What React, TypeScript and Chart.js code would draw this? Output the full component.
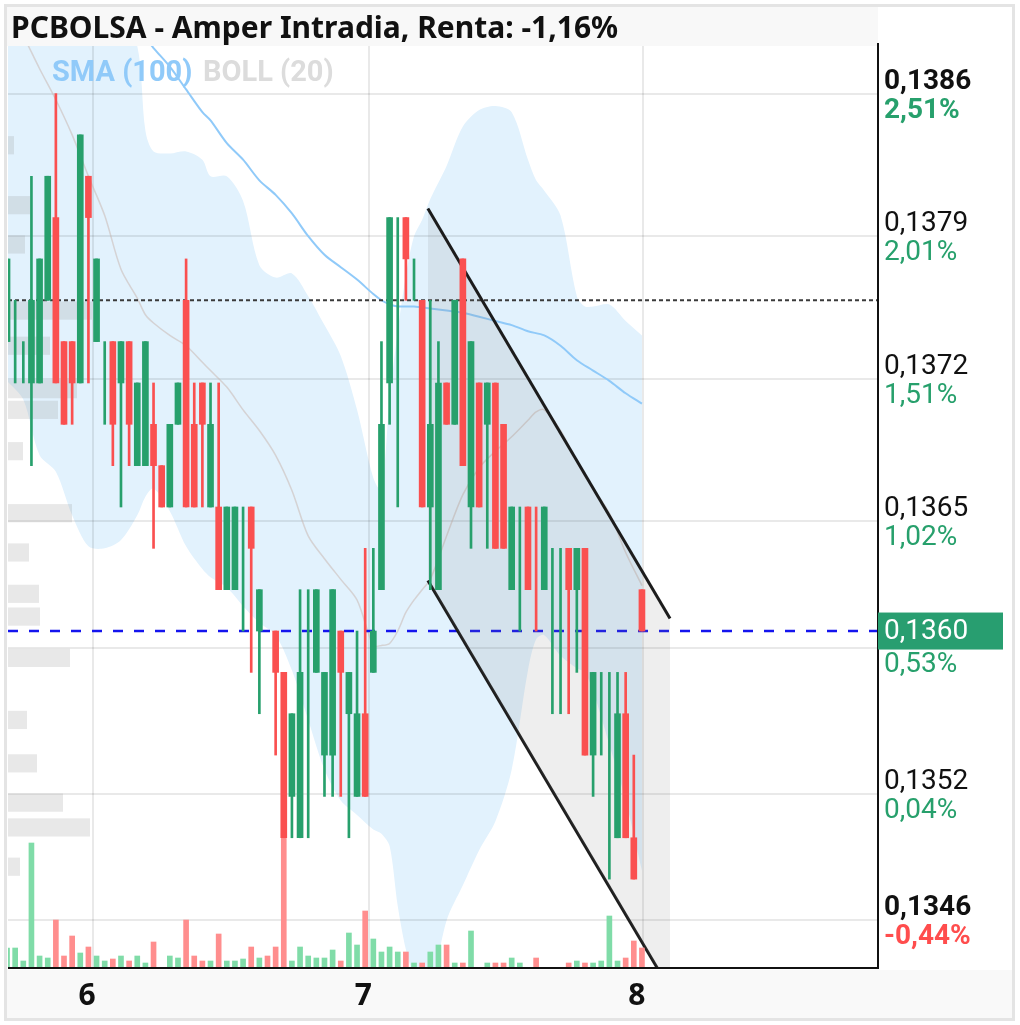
import React, { useEffect, useRef } from 'react';
import { Chart, registerables } from 'chart.js';

Chart.register(...registerables);

// ---------- data ----------
const TITLE = 'PCBOLSA - Amper Intradia, Renta: -1,16%';
const legendLabels = ['SMA (100)', 'BOLL (20)'];
const dayLabels = ['6', '7', '8'];
const daySlots = [10.57, 44.5, 78.1];

const priceTicks = [0.1386, 0.13791, 0.13722, 0.13653, 0.13592, 0.13521, 0.1346];
const priceTickLabels = ['0,1386', '0,1379', '0,1372', '0,1365', '0,1359', '0,1352', '0,1346'];
const pctTickLabels = ['2,51%', '2,01%', '1,51%', '1,02%', '0,53%', '0,04%', '-0,44%'];

const lastPrice = 0.136;
const lastPriceLabel = '0,1360';
const refLevel = 0.1376;

const opens = [
  0.1374, 0.1374, 0.1372, 0.1372, 0.1372, 0.1376, 0.1380, 0.1374, 0.1374, 0.1372,
  0.1382, 0.1374, 0.1374, 0.1374, 0.1372, 0.1374, 0.1368, 0.1368, 0.1370, 0.1368,
  0.1366, 0.1370, 0.1376, 0.1370, 0.1372, 0.1366, 0.1366, 0.1362, 0.1362, 0.1366,
  0.1366, 0.1360, null, 0.1360, 0.1358, 0.1352, 0.1350, 0.1358, 0.1358, 0.1354,
  0.1354, 0.1360, 0.1356, 0.1352, 0.1356, 0.1358, 0.1362, 0.1372, 0.1372, 0.1380,
  0.1378, 0.1376, 0.1366, 0.1362, 0.1372, 0.1370, 0.1378, 0.1366, 0.1372, 0.1370,
  0.1372, 0.1370, 0.1362, 0.1366, 0.1366, 0.1366, 0.1362, 0.1364, 0.1364, 0.1364,
  0.1362, 0.1364, 0.1354, 0.1358, 0.1358, 0.1350, 0.1356, 0.1350, 0.1362,
];
const highs = [
  0.1378, 0.1376, 0.1374, 0.1382, 0.1378, 0.1382, 0.1386, 0.1374, 0.1374, 0.1384,
  0.1382, 0.1378, 0.1374, 0.1374, 0.1374, 0.1374, 0.1372, 0.1374, 0.1372, 0.1368,
  0.1370, 0.1372, 0.1378, 0.1372, 0.1372, 0.1372, 0.1372, 0.1366, 0.1366, 0.1366,
  0.1366, 0.1362, null, 0.1360, 0.1358, 0.1356, 0.1362, 0.1362, 0.1362, 0.1358,
  0.1362, 0.1360, 0.1358, 0.1360, 0.1364, 0.1364, 0.1374, 0.1380, 0.1380, 0.1380,
  0.1378, 0.1376, 0.1376, 0.1374, 0.1372, 0.1376, 0.1378, 0.1374, 0.1372, 0.1372,
  0.1372, 0.1370, 0.1366, 0.1366, 0.1366, 0.1366, 0.1366, 0.1364, 0.1364, 0.1364,
  0.1364, 0.1364, 0.1358, 0.1358, 0.1358, 0.1358, 0.1358, 0.1354, 0.1362,
];
const lows = [
  0.1374, 0.1372, 0.1372, 0.1368, 0.1372, 0.1376, 0.1372, 0.1370, 0.1370, 0.1372,
  0.1372, 0.1374, 0.1370, 0.1368, 0.1366, 0.1368, 0.1368, 0.1368, 0.1364, 0.1366,
  0.1366, 0.1370, 0.1366, 0.1366, 0.1366, 0.1366, 0.1362, 0.1362, 0.1362, 0.1360,
  0.1358, 0.1356, null, 0.1354, 0.1350, 0.1350, 0.1350, 0.1350, 0.1358, 0.1352,
  0.1352, 0.1352, 0.1350, 0.1352, 0.1352, 0.1358, 0.1362, 0.1370, 0.1366, 0.1376,
  0.1376, 0.1366, 0.1362, 0.1362, 0.1370, 0.1370, 0.1368, 0.1364, 0.1366, 0.1364,
  0.1364, 0.1364, 0.1362, 0.1360, 0.1362, 0.1360, 0.1362, 0.1356, 0.1356, 0.1356,
  0.1358, 0.1354, 0.1352, 0.1354, 0.1348, 0.1350, 0.1350, 0.1348, 0.1360,
];
const closes = [
  0.1378, 0.1374, 0.1372, 0.1376, 0.1378, 0.1382, 0.1372, 0.1370, 0.1372, 0.1384,
  0.1380, 0.1378, 0.1374, 0.1370, 0.1374, 0.1370, 0.1372, 0.1374, 0.1368, 0.1366,
  0.1370, 0.1372, 0.1366, 0.1366, 0.1370, 0.1370, 0.1362, 0.1366, 0.1366, 0.1366,
  0.1364, 0.1362, null, 0.1358, 0.1350, 0.1356, 0.1358, 0.1358, 0.1362, 0.1358,
  0.1362, 0.1358, 0.1358, 0.1356, 0.1352, 0.1360, 0.1370, 0.1380, 0.1372, 0.1378,
  0.1378, 0.1366, 0.1370, 0.1372, 0.1370, 0.1376, 0.1368, 0.1374, 0.1366, 0.1372,
  0.1364, 0.1364, 0.1366, 0.1366, 0.1362, 0.1366, 0.1366, 0.1364, 0.1364, 0.1362,
  0.1364, 0.1354, 0.1358, 0.1358, 0.1358, 0.1356, 0.1350, 0.1348, 0.1360,
];
// doji bars (open == close) that belong to a falling bar
const dojiDown = [65];

const volumes = [
  20, 20, 7, 125, 12, 10, 48, 12, 32, 15,
  21, 12, 7, 9, 12, 7, 12, 5, 26, 0,
  12, 10, 48, 12, 7, 7, 34, 7, 7, 9,
  21, 10, 12, 21, 135, 7, 21, 12, 10, 10,
  18, 7, 35, 23, 57, 29, 16, 21, 16, 16,
  5, 5, 16, 23, 23, 5, 5, 37, 0, 5,
  5, 5, 10, 5, 0, 10, 0, 0, 0, 5,
  7, 5, 5, 7, 52, 7, 10, 27, 20,
];

const bandSlots = [0, 2, 4, 6, 8, 10, 12, 14, 16, 17, 18, 20, 22, 24, 25, 27, 29, 31, 33, 35, 37, 39, 41, 43, 45, 46, 47, 48, 49, 50, 51, 52, 54, 56, 58, 60, 62, 64, 65, 66, 68, 70, 71, 72, 74, 76, 78];
const bollUpper = [
  0.13895, 0.13895, 0.13895, 0.13895, 0.13895, 0.13895, 0.13895, 0.13895,
  0.13883, 0.13842, 0.13832, 0.13831, 0.13832, 0.13828, 0.13820, 0.13820, 0.13808, 0.13777,
  0.13771, 0.13773, 0.13762, 0.13748, 0.13733, 0.13707, 0.13674, 0.13668, 0.13712, 0.13745,
  0.13772, 0.13791, 0.13799, 0.13809, 0.13825, 0.13844, 0.13852, 0.13854, 0.13851, 0.13828,
  0.13818, 0.13813, 0.13801, 0.13762, 0.13757, 0.13757, 0.13758, 0.13750, 0.13743,
];
const bollLower = [
  0.13721, 0.13712, 0.13685, 0.13677, 0.13656, 0.13641, 0.13640, 0.13644,
  0.13656, 0.13665, 0.13669, 0.13658, 0.13641, 0.13630, 0.13626, 0.13621, 0.13612, 0.13604,
  0.13598, 0.13581, 0.13557, 0.13533, 0.13518, 0.13511, 0.13504, 0.13502, 0.13496, 0.13467,
  0.13446, 0.13433, 0.13426, 0.13426, 0.13460, 0.13477, 0.13494, 0.13508, 0.13533, 0.13581,
  0.13596, 0.13598, 0.13588, 0.13582, 0.13580, 0.13571, 0.13545, 0.13518, 0.13484,
];
const bollMid = [
  0.13903, 0.13888, 0.13872, 0.13857, 0.13840, 0.13820, 0.13801, 0.13775,
  0.13761, 0.13753, 0.13749, 0.13743, 0.13738, 0.13730, 0.13726, 0.13718, 0.13707, 0.13697,
  0.13685, 0.13668, 0.13646, 0.13635, 0.13625, 0.13615, 0.13593, 0.13593, 0.13594, 0.13600,
  0.13609, 0.13615, 0.13620, 0.13625, 0.13646, 0.13666, 0.13679, 0.13687, 0.13694, 0.13702,
  0.13706, 0.13707, 0.13697, 0.13682, 0.13675, 0.13669, 0.13657, 0.13638, 0.13622,
];

const smaSlots = [14, 16, 17, 18, 20, 22, 24, 25, 27, 29, 31, 33, 35, 37, 39, 41, 43, 45, 46, 47, 48, 50, 52, 54, 56, 58, 60, 62, 64, 66, 68, 70, 72, 74, 76, 78];
const smaValues = [
  0.13901, 0.13890, 0.13887, 0.13882, 0.13873, 0.13862, 0.13851, 0.13847, 0.13836, 0.13828,
  0.13818, 0.13811, 0.13802, 0.13791, 0.13782, 0.13776, 0.13770, 0.13763, 0.13760, 0.13758,
  0.13757, 0.13757, 0.13756, 0.13755, 0.13754, 0.13752, 0.13750, 0.13748, 0.13745, 0.13743,
  0.13738, 0.13731, 0.13726, 0.13721, 0.13715, 0.13710,
];

// trend channel drawn on the chart (slot, price)
const channelSlots = [51.7, 81.45];
const channelUpper = [0.138044, 0.136061];
const channelLower = [0.136244, 0.134266];

// volume profile (price level, volume)
const profilePrices = [0.13835, 0.13806, 0.13787, 0.13755, 0.13738, 0.13717, 0.13707, 0.13687, 0.13657, 0.13638, 0.13618, 0.13607, 0.13587, 0.13557, 0.13536, 0.13517, 0.13505, 0.13486];
const profileVols = [6, 22, 17, 84, 42, 69, 50, 15, 64, 21, 31, 32, 62, 19, 29, 55, 82, 12];

// ---------- styling ----------
const GREEN = '#27a06c';
const RED = '#fa5050';
const VOL_GREEN = '#80dca8';
const VOL_RED = '#ff8e8e';
const X_MIN = 0.12;
const X_MAX = 107;
const Y_MIN = 0.13437;
const Y_MAX = 0.13883;

const isUp = (i: number) => {
  const o = opens[i];
  const c = closes[i];
  if (o == null || c == null) return false;
  if (c > o) return true;
  if (c < o) return false;
  return !dojiDown.includes(i);
};

const slots = opens.map((_, i) => i);
const wickData = slots.filter((i) => opens[i] != null).map((i) => ({ x: i, y: [lows[i], highs[i]] }));
const bodyData = slots
  .filter((i) => opens[i] != null && opens[i] !== closes[i])
  .map((i) => ({ x: i, y: [opens[i], closes[i]] }));
const volData = slots.filter((i) => volumes[i] > 0).map((i) => ({ x: i, y: volumes[i] }));

const toXY = (xs: number[], ys: number[]) => xs.map((x, i) => ({ x, y: ys[i] }));

const decorPlugin = {
  id: 'decor',
  beforeDraw(chart: any) {
    const ctx = chart.ctx;
    ctx.save();
    ctx.fillStyle = '#ffffff';
    ctx.fillRect(0, 0, chart.width, chart.height);
    ctx.fillStyle = '#f8f8f8';
    ctx.fillRect(7, 7, 871, 39);
    ctx.fillStyle = '#f9f9f9';
    ctx.fillRect(7, 970, 1006, 48);
    ctx.strokeStyle = '#e4e4e4';
    ctx.lineWidth = 3;
    ctx.strokeRect(5.5, 5.5, 1008, 1014);
    ctx.restore();
  },
  afterDatasetDraw(chart: any, args: any) {
    if (args.index !== 9) return;
    const ctx = chart.ctx;
    const sx = chart.scales.x;
    const sy = chart.scales.y;
    const { left, right, top, bottom } = chart.chartArea;
    ctx.save();
    ctx.beginPath();
    ctx.rect(left, top, right - left, bottom - top);
    ctx.clip();
    // grid
    ctx.fillStyle = 'rgba(0,0,0,0.085)';
    priceTicks.forEach((v) => {
      const y = Math.round(sy.getPixelForValue(v));
      ctx.fillRect(left, y - 1, right - left, 2);
    });
    daySlots.forEach((s) => {
      const x = Math.round(sx.getPixelForValue(s));
      ctx.fillRect(x - 1, top, 2, bottom - top);
    });
    // volume profile
    ctx.fillStyle = 'rgba(150,150,150,0.22)';
    profilePrices.forEach((p, i) => {
      const y1 = sy.getPixelForValue(p + 0.000044);
      const y2 = sy.getPixelForValue(p - 0.000044);
      ctx.fillRect(left, y1, profileVols[i], y2 - y1);
    });
    ctx.restore();
  },
  afterDraw(chart: any) {
    const ctx = chart.ctx;
    const sx = chart.scales.x;
    const sy = chart.scales.y;
    const { left, right, top, bottom } = chart.chartArea;
    ctx.save();
    // axis lines
    ctx.fillStyle = '#111111';
    ctx.fillRect(right - 1, top - 3, 2, bottom - top + 4);
    ctx.fillRect(left, bottom - 1, right - left, 2);

    // right axis labels
    ctx.textBaseline = 'middle';
    ctx.textAlign = 'left';
    priceTicks.forEach((v, i) => {
      const y = sy.getPixelForValue(v);
      const bold = i === 0 || i === priceTicks.length - 1;
      ctx.font = `${bold ? 'bold ' : ''}28px Roboto`;
      ctx.fillStyle = '#111111';
      ctx.fillText(priceTickLabels[i], right + 6, y - 12);
      const pct = pctTickLabels[i];
      ctx.fillStyle = pct.startsWith('-') ? '#ff4d4d' : '#27a06c';
      ctx.fillText(pct, right + 6, y + 17);
    });
    // last price box
    const yc = sy.getPixelForValue(lastPrice);
    ctx.fillStyle = '#289e70';
    ctx.fillRect(right, yc - 18.5, 125, 37);
    ctx.font = '28px Roboto';
    ctx.fillStyle = '#ffffff';
    ctx.fillText(lastPriceLabel, right + 6, yc + 1);

    // x labels
    ctx.font = 'bold 30px "Noto Sans"';
    ctx.textAlign = 'center';
    ctx.fillStyle = '#111111';
    daySlots.forEach((s, i) => {
      ctx.fillText(dayLabels[i], sx.getPixelForValue(s) - 6, 996);
    });

    // title
    ctx.textAlign = 'left';
    ctx.textBaseline = 'alphabetic';
    ctx.font = 'bold 30px "Noto Sans"';
    ctx.fillStyle = '#111111';
    ctx.fillText(TITLE, 11, 38);

    // legend
    ctx.font = 'bold 29px Roboto';
    ctx.fillStyle = '#90caf9';
    ctx.fillText(legendLabels[0], 52, 81);
    ctx.fillStyle = '#dcdcdc';
    ctx.fillText(legendLabels[1], 203, 81);
    ctx.restore();
  },
};

export default function App() {
  const ref = useRef<HTMLCanvasElement>(null);
  useEffect(() => {
    if (!ref.current) return;
    const lineBase = { type: 'line' as const, pointRadius: 0, pointHoverRadius: 0, clip: 0, yAxisID: 'y' };
    const chart = new Chart(ref.current, {
      type: 'bar',
      data: {
        datasets: [
          {
            type: 'bar',
            data: bodyData as any,
            order: 0,
            barThickness: 6,
            grouped: false,
            yAxisID: 'y',
            clip: 0,
            backgroundColor: (c: any) => (c.raw && isUp(c.raw.x) ? GREEN : RED),
          } as any,
          {
            type: 'bar',
            data: wickData as any,
            order: 1,
            barThickness: 2,
            grouped: false,
            yAxisID: 'y',
            clip: 0,
            backgroundColor: (c: any) => (c.raw && isUp(c.raw.x) ? GREEN : RED),
          } as any,
          {
            type: 'bar',
            data: volData as any,
            order: 2,
            barThickness: 5,
            grouped: false,
            yAxisID: 'yv',
            clip: 0,
            backgroundColor: (c: any) => (c.raw && isUp(c.raw.x) ? VOL_GREEN : VOL_RED),
          } as any,
          {
            ...lineBase,
            data: toXY(channelSlots, channelUpper),
            order: 3,
            borderColor: '#1c1c1c',
            borderWidth: 3,
            fill: '+1',
            backgroundColor: 'rgba(120,120,120,0.13)',
          } as any,
          {
            ...lineBase,
            data: toXY(channelSlots, channelLower),
            order: 4,
            borderColor: '#1c1c1c',
            borderWidth: 3,
            fill: false,
          } as any,
          {
            ...lineBase,
            data: [{ x: X_MIN, y: lastPrice }, { x: X_MAX, y: lastPrice }],
            order: 5,
            borderColor: '#1414ee',
            borderWidth: 2.5,
            borderDash: [10, 11],
            fill: false,
          } as any,
          {
            ...lineBase,
            data: [{ x: X_MIN, y: refLevel }, { x: X_MAX, y: refLevel }],
            order: 6,
            borderColor: '#3a3a3a',
            borderWidth: 2,
            borderDash: [4, 3],
            fill: false,
          } as any,
          {
            ...lineBase,
            data: toXY(smaSlots, smaValues),
            order: 7,
            borderColor: '#90caf9',
            borderWidth: 2,
            tension: 0.3,
            fill: false,
          } as any,
          {
            ...lineBase,
            data: toXY(bandSlots, bollMid),
            order: 8,
            borderColor: 'rgba(200,180,172,0.5)',
            borderWidth: 1.5,
            tension: 0.3,
            fill: false,
          } as any,
          {
            ...lineBase,
            data: toXY(bandSlots, bollUpper),
            order: 9,
            borderColor: 'rgba(0,0,0,0)',
            borderWidth: 1,
            tension: 0.3,
            fill: '+1',
            backgroundColor: '#e2f2fd',
          } as any,
          {
            ...lineBase,
            data: toXY(bandSlots, bollLower),
            order: 10,
            borderColor: 'rgba(0,0,0,0)',
            borderWidth: 1,
            tension: 0.3,
            fill: false,
          } as any,
        ],
      },
      options: {
        responsive: false,
        animation: false,
        events: [],
        layout: { padding: { left: 8, top: 46, right: 142, bottom: 57 } },
        plugins: { legend: { display: false }, tooltip: { enabled: false }, title: { display: false } },
        scales: {
          x: { type: 'linear', min: X_MIN, max: X_MAX, offset: false, display: false },
          y: { type: 'linear', min: Y_MIN, max: Y_MAX, display: false },
          yv: { type: 'linear', min: 0, max: 922, display: false },
        },
      },
      plugins: [decorPlugin],
    } as any);
    return () => chart.destroy();
  }, []);
  return (
    <div style={{ position: 'absolute', left: 0, top: 0, width: 1020, height: 1025 }}>
      <canvas ref={ref} width={1020} height={1025} style={{ width: 1020, height: 1025, display: 'block' }} />
    </div>
  );
}
